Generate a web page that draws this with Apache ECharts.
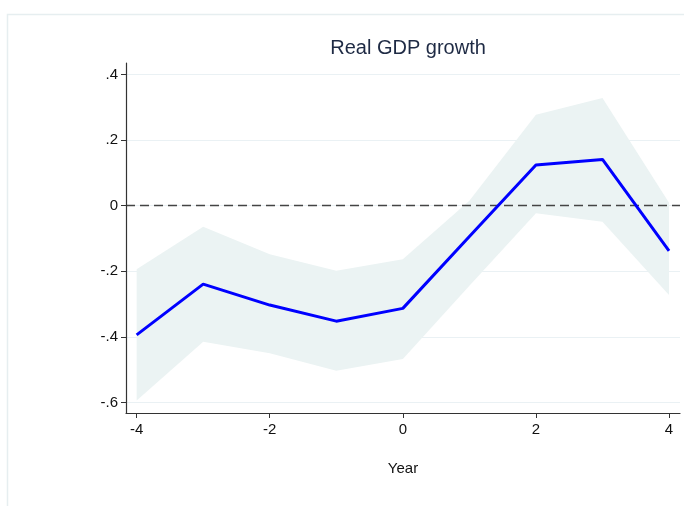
<!DOCTYPE html>
<html>
<head>
<meta charset="utf-8">
<script src="https://cdn.jsdelivr.net/npm/echarts@6/dist/echarts.min.js"></script>
<style>
  html, body { margin: 0; padding: 0; background: #fff; }
  #chart { width: 684px; height: 506px; }
</style>
</head>
<body>
<div id="chart"></div>
<script>
// Event-study estimates of real GDP growth with 95% confidence band
const years = [-4, -3, -2, -1, 0, 1, 2, 3, 4];
const estimate = [-0.394, -0.239, -0.303, -0.352, -0.313, -0.094, 0.124, 0.141, -0.138];
const upper = [-0.194, -0.064, -0.148, -0.198, -0.163, 0.015, 0.277, 0.328, 0.009];
const lower = [-0.594, -0.415, -0.450, -0.503, -0.467, -0.244, -0.023, -0.049, -0.272];
const xTicks = [-4, -2, 0, 2, 4];
const yTicks = [-0.6, -0.4, -0.2, 0, 0.2, 0.4];

const FONT = 'Liberation Sans, Arial, sans-serif';

function stataLabel(v) {
  const r = Math.round(v * 10) / 10;
  if (r === 0) return '0';
  return String(r).replace('0.', '.');
}

const chart = echarts.init(document.getElementById('chart'));

// confidence band drawn as one polygon: upper edge left→right, lower edge right→left
function renderBand(params, api) {
  if (params.dataIndex !== 0) return null;
  const pts = [];
  for (let i = 0; i < years.length; i++) pts.push(api.coord([years[i], upper[i]]));
  for (let i = years.length - 1; i >= 0; i--) pts.push(api.coord([years[i], lower[i]]));
  return {
    type: 'polygon',
    shape: { points: pts },
    style: { fill: '#ebf3f3', stroke: null }
  };
}

chart.setOption({
  animation: false,
  backgroundColor: '#ffffff',
  graphic: [{
    type: 'rect',
    shape: { x: 7.5, y: 14.5, width: 700, height: 520 },
    style: { fill: 'none', stroke: '#e6eef0', lineWidth: 1.5 },
    silent: true
  }],
  title: {
    text: 'Real GDP growth',
    left: 403,
    top: 33,
    textAlign: 'center',
    textStyle: { fontFamily: FONT, fontSize: 20, fontWeight: 'normal', color: '#1e2a44' }
  },
  grid: { left: 126, top: 63, right: 4, bottom: 93 },
  xAxis: {
    type: 'value',
    min: -4.16,
    max: 4.165,
    z: 10,
    name: 'Year',
    nameLocation: 'middle',
    nameGap: 48,
    nameTextStyle: { fontFamily: FONT, fontSize: 15, color: '#111' },
    axisLine: { show: true, onZero: false, lineStyle: { color: '#333', width: 1.2 } },
    axisTick: { show: true, customValues: xTicks, length: 5, lineStyle: { color: '#333' } },
    axisLabel: {
      customValues: xTicks,
      margin: 9,
      fontFamily: FONT, fontSize: 15, color: '#111',
      formatter: v => String(v)
    },
    splitLine: { show: false }
  },
  yAxis: {
    type: 'value',
    min: -0.632,
    max: 0.435,
    z: 10,
    axisLine: { show: true, onZero: false, lineStyle: { color: '#333', width: 1.2 } },
    axisTick: { show: true, customValues: yTicks, length: 5, lineStyle: { color: '#333' } },
    axisLabel: {
      customValues: yTicks,
      margin: 8,
      fontFamily: FONT, fontSize: 15, color: '#111',
      formatter: v => stataLabel(v)
    },
    splitLine: { show: false }
  },
  series: [
    {
      // horizontal grid lines
      type: 'line',
      data: [],
      silent: true,
      markLine: {
        symbol: 'none',
        silent: true,
        z: 1,
        label: { show: false },
        data: yTicks.map(v => ({ yAxis: v })),
        lineStyle: { color: '#eaf1f4', width: 1.2, type: 'solid' }
      },
      z: 1
    },
    {
      name: 'band',
      type: 'custom',
      renderItem: renderBand,
      data: years.map((x, i) => [x, lower[i], upper[i]]),
      encode: { x: 0, y: [1, 2] },
      silent: true,
      z: 2
    },
    {
      // zero reference line
      type: 'line',
      data: [],
      silent: true,
      markLine: {
        symbol: 'none',
        silent: true,
        z: 3,
        label: { show: false },
        data: [{ yAxis: 0 }],
        lineStyle: { color: '#444', width: 1.3, type: [9, 5] }
      },
      z: 3
    },
    {
      name: 'estimate',
      type: 'line',
      data: years.map((x, i) => [x, estimate[i]]),
      symbol: 'none',
      lineStyle: { color: '#0000ff', width: 3 },
      z: 4
    }
  ]
});
</script>
</body>
</html>
